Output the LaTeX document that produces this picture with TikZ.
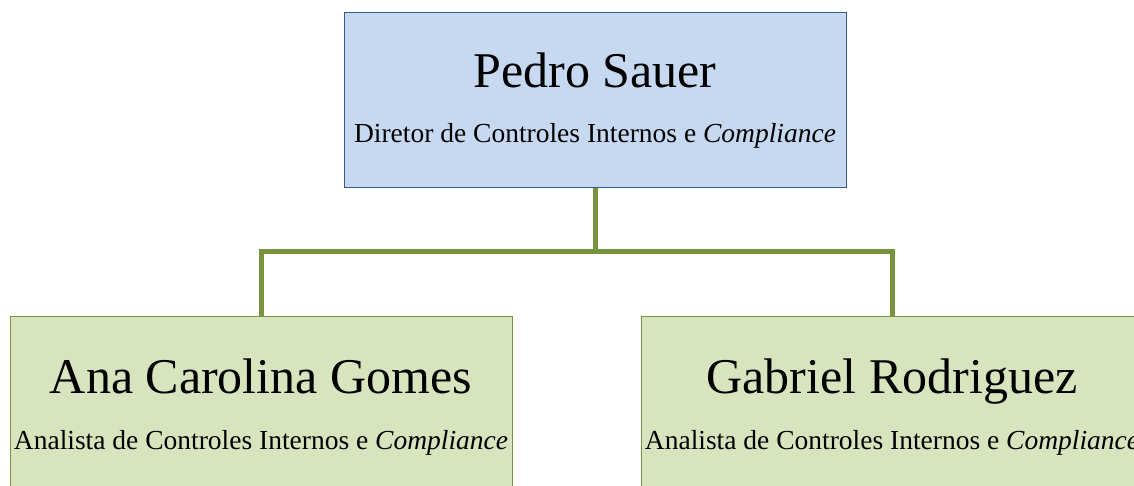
\documentclass[tikz,border=0pt]{standalone}
\usepackage{fontspec}
\setmainfont{Liberation Serif}
\definecolor{topfill}{HTML}{C6D9F1}
\definecolor{topline}{HTML}{385D8A}
\definecolor{botfill}{HTML}{D7E4BD}
\definecolor{botline}{HTML}{77933C}
\begin{document}
\begin{tikzpicture}[x=1pt,y=-1pt,
  topbox/.style={draw=topline,fill=topfill,line width=1pt,minimum width=502pt,minimum height=175pt,inner sep=0pt},
  botbox/.style={draw=botline,fill=botfill,line width=1pt,minimum width=502pt,minimum height=175pt,inner sep=0pt},
  pname/.style={font=\fontsize{50}{56}\selectfont,anchor=base,inner sep=0pt},
  prole/.style={font=\fontsize{27.5}{32}\selectfont,anchor=base,inner sep=0pt},
  link/.style={draw=botline,line width=5pt}]
\useasboundingbox (0,0) rectangle (1134,485);
\clip (0,0) rectangle (1134,485);
\node[topbox] (top) at (595,99.5) {};
\node[botbox] (left) at (261,403.5) {};
\node[botbox] (right) at (892,403.5) {};
\node[pname] (topn) at (595,87) {Pedro Sauer};
\node[prole] (topr) at (595,142) {Diretor de Controles Internos e \textit{Compliance}};
\node[pname] (leftn) at (261,393) {Ana Carolina Gomes};
\node[prole] (leftr) at (261,449) {Analista de Controles Internos e \textit{Compliance}};
\node[pname] (rightn) at (892,393) {Gabriel Rodriguez};
\node[prole] (rightr) at (892,449) {Analista de Controles Internos e \textit{Compliance}};
\coordinate (mid) at (595,251.5);
\draw[link] (top.south) -- (mid);
\draw[link] (left.north) |- (mid) -| (right.north);
\end{tikzpicture}
\end{document}
